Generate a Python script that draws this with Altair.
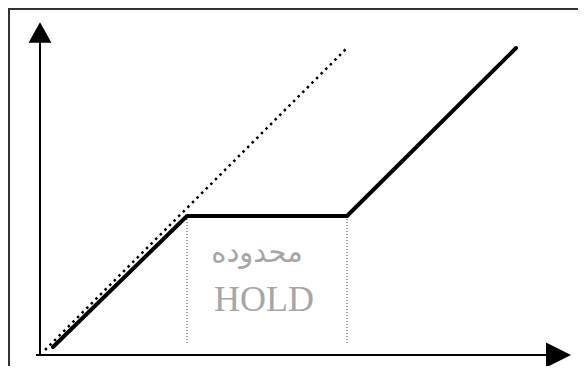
import altair as alt
import pandas as pd

# Data (units: offsets from the origin of the drawn axes)
solid_x = [13, 147, 307, 476]
solid_y = [8, 139, 139, 307]
diag_x = [5, 307]
diag_y = [5, 307]
guide_x = [147, 307]
guide_top = [139, 139]
guide_bottom = [12, 12]
label_ar = ["محدوده"]
label_ar_x = [217]
label_ar_y = [93]
label_en = ["HOLD"]
label_en_x = [224]
label_en_y = [44]

W, H = 570, 358
xs = alt.Scale(domain=[-32, 538], range=[0, W], nice=False, zero=False)
ys = alt.Scale(domain=[-11, 347], range=[H, 0], nice=False, zero=False)
X = lambda f: alt.X(f, type="quantitative", scale=xs, axis=None)
Y = lambda f: alt.Y(f, type="quantitative", scale=ys, axis=None)

solid = pd.DataFrame({"x": solid_x, "y": solid_y, "o": range(len(solid_x))})
diag = pd.DataFrame({"x": diag_x, "y": diag_y})
guides = pd.DataFrame({"x": guide_x, "y": guide_top, "y2": guide_bottom})
ar_df = pd.DataFrame({"t": label_ar, "x": label_ar_x, "y": label_ar_y})
en_df = pd.DataFrame({"t": label_en, "x": label_en_x, "y": label_en_y})

# outer frame (top & left edges visible)
frame_top = alt.Chart(pd.DataFrame({"a": [0]})).mark_rule(color="#333", strokeWidth=2).encode(
    x=alt.value(0), x2=alt.value(W + 20), y=alt.value(1))
frame_left = alt.Chart(pd.DataFrame({"a": [0]})).mark_rule(color="#333", strokeWidth=2).encode(
    x=alt.value(1), y=alt.value(0), y2=alt.value(H + 20))

# axes
yaxis = alt.Chart(pd.DataFrame({"x": [0], "y": [-1], "y2": [314]})).mark_rule(
    color="black", strokeWidth=2).encode(x=X("x"), y=Y("y"), y2="y2")
xaxis = alt.Chart(pd.DataFrame({"x": [-4], "x2": [508], "y": [0]})).mark_rule(
    color="black", strokeWidth=2).encode(x=X("x"), x2="x2", y=Y("y"))
yarrow = alt.Chart(pd.DataFrame({"x": [0], "y": [322.5]})).mark_point(
    shape="M0,-0.9L1,0.9L-1,0.9Z", size=529, filled=True, fill="black", strokeWidth=0, opacity=1
).encode(x=X("x"), y=Y("y"))
xarrow = alt.Chart(pd.DataFrame({"x": [518.5], "y": [0]})).mark_point(
    shape="M-1,-1L1,0L-1,1Z", size=625, filled=True, fill="black", strokeWidth=0, opacity=1
).encode(x=X("x"), y=Y("y"))

diag_line = alt.Chart(diag).mark_line(color="black", strokeWidth=2.5, strokeDash=[2.5, 4]).encode(
    x=X("x"), y=Y("y"))
guide_lines = alt.Chart(guides).mark_rule(color="#333", strokeWidth=1, strokeDash=[1, 2]).encode(
    x=X("x"), y=Y("y"), y2="y2")
solid_line = alt.Chart(solid).mark_line(color="black", strokeWidth=4, strokeCap="round",
                                        strokeJoin="round").encode(
    x=X("x"), y=Y("y"), order="o")

txt_ar = alt.Chart(ar_df).mark_text(font="Noto Sans CJK SC, DejaVu Sans", fontSize=29,
                                    fontWeight="normal", color="#a6a6a6",
                                    align="center", baseline="alphabetic").encode(
    x=X("x"), y=Y("y"), text="t")
txt_en = alt.Chart(en_df).mark_text(font="Liberation Serif", fontSize=36, color="#a6a6a6",
                                    align="center", baseline="alphabetic").encode(
    x=X("x"), y=Y("y"), text="t")

chart = alt.layer(frame_top, frame_left, guide_lines, diag_line, solid_line, yaxis, xaxis,
                  yarrow, xarrow, txt_ar, txt_en).properties(
    width=W, height=H, padding=0, autosize="none"
).configure_view(stroke=None)

chart.save("out.html", embed_options={"renderer": "svg", "actions": False})
